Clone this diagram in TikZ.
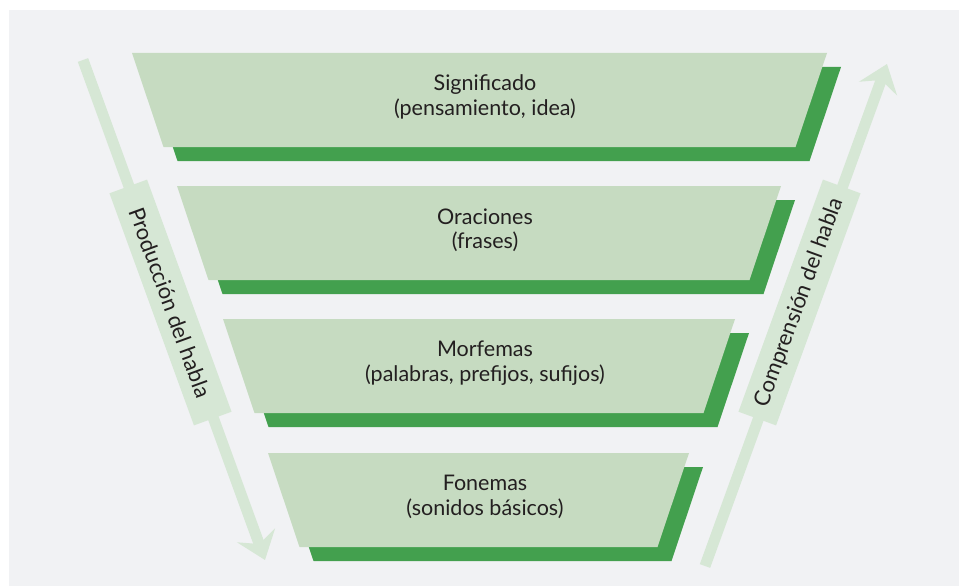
\documentclass[tikz,border=0pt]{standalone}
\usepackage{fontspec}
\setmainfont{Lato}
\usetikzlibrary{arrows.meta}
\definecolor{bgc}{HTML}{F1F2F4}
\definecolor{lightg}{HTML}{C6DBC1}
\definecolor{darkg}{HTML}{43A04E}
\definecolor{arrowg}{HTML}{D6E7D5}
\definecolor{txt}{HTML}{231F20}
\newcommand\drawlevel[5]{% #1 top y, #2 left x, #3 right x, #4 name, #5 text
  \fill[darkg] (#2+14,#1+14) -- (#3+14,#1+14) -- (#3+14-31.5,#1+108) -- (#2+14+31.5,#1+108) -- cycle;
  \fill[lightg] (#2,#1) -- (#3,#1) -- (#3-31.5,#1+94) -- (#2+31.5,#1+94) -- cycle;
  \node[lvltext] (#4) at (485,#1+44) {#5};
}
\begin{document}
\begin{tikzpicture}[x=1pt,y=-1pt,
  lvltext/.style={align=center,font=\fontsize{21.5}{24.5}\selectfont,text=txt,inner sep=0pt},
  sidebox/.style={fill=arrowg,minimum width=247pt,minimum height=40pt,inner sep=0pt,
    font=\fontsize{22}{24}\selectfont,text=txt},
  bigarrow/.style={draw=arrowg,line width=11pt,-{Stealth[length=26pt,width=40pt,inset=9pt]}}]
\useasboundingbox (0,0) rectangle (959,586);
\fill[white] (0,0) rectangle (959,586);
\fill[bgc] (9,10) rectangle (959,586);

\coordinate (pa) at (83,60);
\coordinate (pb) at (265,560);
\coordinate (ca) at (705,566);
\coordinate (cb) at (887,64);
\draw[bigarrow] (pa) -- (pb);
\draw[bigarrow] (ca) -- (cb);

\drawlevel{53}{132}{827}{l1}{Significado\\(pensamiento, idea)}
\drawlevel{186}{177}{781}{l2}{Oraciones\\(frases)}
\drawlevel{319}{223}{735}{l3}{Morfemas\\(palabras, prefijos, sufijos)}
\drawlevel{453}{268}{689}{l4}{Fonemas\\(sonidos básicos)}

\node[sidebox,rotate=-70] (prod) at (170.5,302.5) {Producción del habla};
\node[sidebox,rotate=70] (comp) at (799.5,302.5) {Comprensión del habla};
\end{tikzpicture}
\end{document}
